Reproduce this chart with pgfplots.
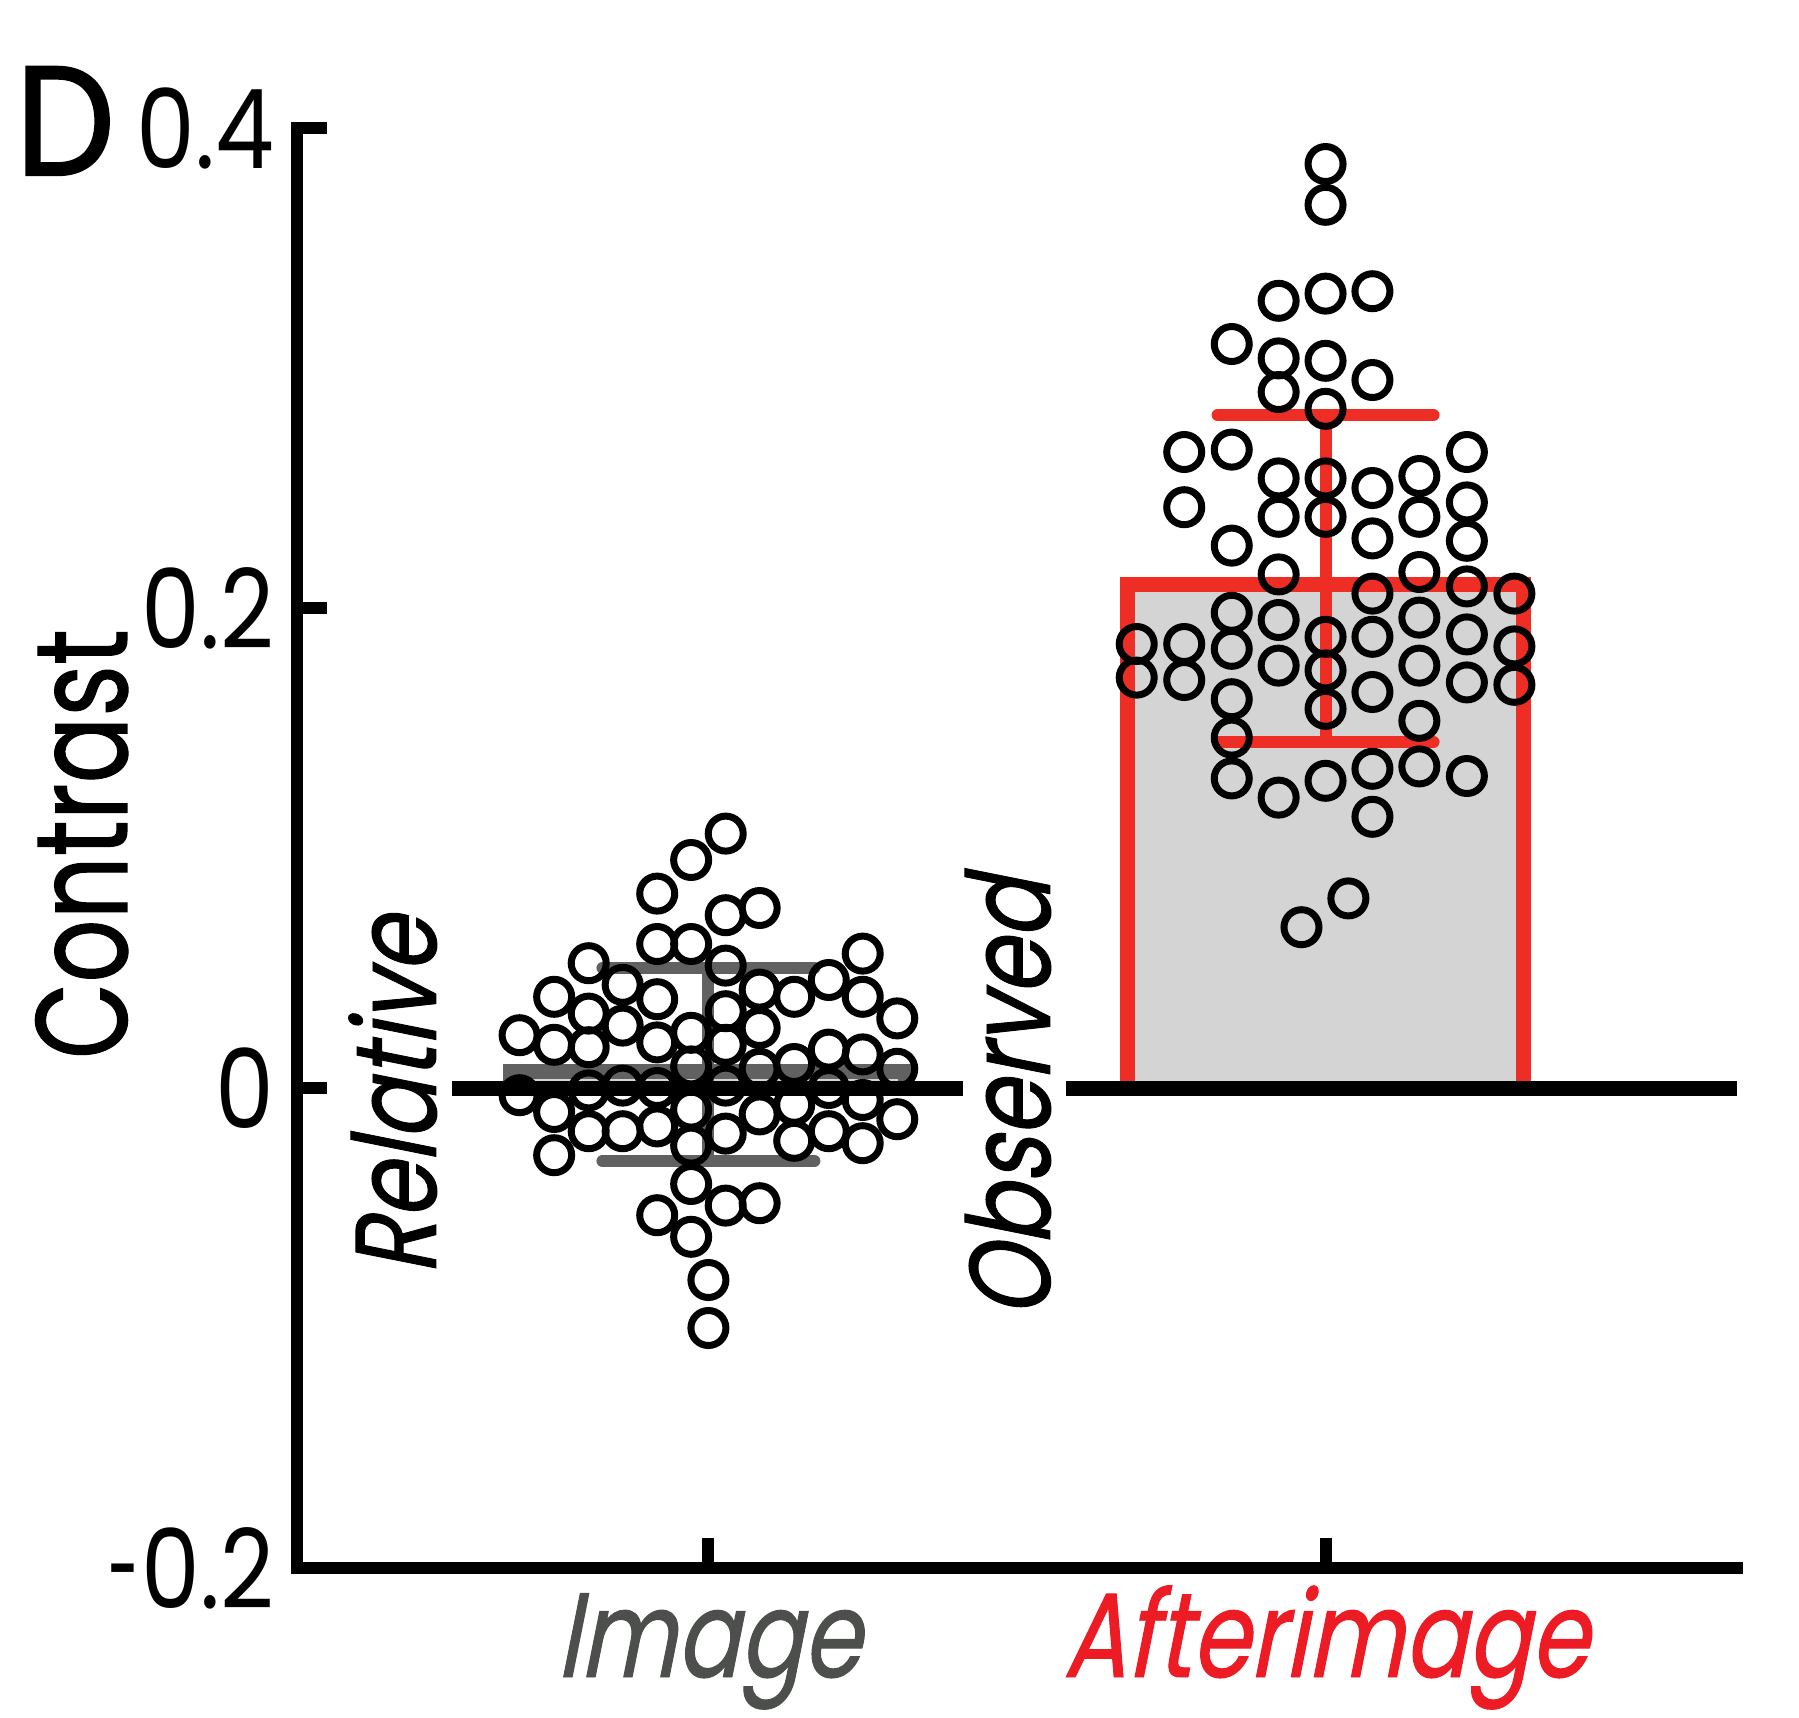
\documentclass[border=0pt]{standalone}
\usepackage{fontspec}
\setmainfont{Poppins}[FakeStretch=0.85]
\newfontfamily\labfont{Poppins}[FakeStretch=0.76, FakeBold=0.8]
\newfontfamily\oblfont{Poppins}[FakeStretch=0.79, FakeSlant=0.2, FakeBold=0.8]
\newfontfamily\xlabfont{Poppins}[FakeStretch=0.78, FakeSlant=0.2, FakeBold=0.8]
\newfontfamily\panelfont{Poppins}[FakeStretch=0.9, FakeBold=1.6]
\usepackage{graphicx}
\usepackage{pgfplots}
\usepackage{pgfplotstable}
\pgfplotsset{compat=1.18}

\definecolor{barred}{HTML}{EE2E24}
\definecolor{barfill}{HTML}{D4D4D4}
\definecolor{errgray}{HTML}{616161}
\definecolor{imggray}{HTML}{4D4F4D}
\definecolor{aftred}{HTML}{ED1C24}

% short minus sign for the tick labels
\newcommand{\shortminus}{\scalebox{0.6}[1]{-}\kern0.5pt}

% individual observations, Image condition
\pgfplotstableread{
x y
1.028 0.106
0.972 0.095
0.917 0.081
1.028 0.072
1.083 0.075
0.917 0.060
0.972 0.060
1.028 0.051
0.806 0.052
0.861 0.043
0.917 0.037
0.750 0.038
0.806 0.031
0.861 0.026
0.972 0.023
1.028 0.032
1.083 0.041
1.139 0.038
1.195 0.045
1.250 0.056
1.250 0.038
1.306 0.029
1.083 0.025
0.694 0.022
0.750 0.018
0.806 0.017
0.917 0.019
1.028 0.018
1.195 0.016
1.250 0.014
1.306 0.008
0.972 0.009
1.083 0.008
1.139 0.010
0.861 0.001
0.917 0.000
1.028 0.001
0.694 -0.003
0.806 -0.001
0.750 -0.010
1.139 -0.007
1.195 0.000
1.250 -0.005
0.972 -0.009
1.083 -0.011
1.306 -0.013
0.806 -0.018
0.861 -0.018
0.917 -0.016
1.028 -0.019
1.139 -0.022
1.195 -0.018
1.250 -0.023
0.972 -0.024
0.750 -0.028
0.972 -0.040
0.917 -0.053
1.028 -0.049
1.083 -0.048
0.972 -0.062
1.000 -0.080
1.000 -0.100
}\imagedata

% individual observations, Afterimage condition
\pgfplotstableread{
x y
2.000 0.385
2.000 0.368
1.924 0.328
2.000 0.331
2.076 0.332
1.848 0.310
1.924 0.304
2.000 0.303
2.076 0.295
1.924 0.290
2.000 0.283
1.771 0.265
1.848 0.266
1.924 0.254
2.000 0.254
2.076 0.250
2.152 0.255
2.229 0.265
1.771 0.242
1.924 0.238
2.000 0.238
2.152 0.238
2.229 0.244
1.848 0.226
2.076 0.229
2.229 0.228
1.924 0.214
2.152 0.215
2.229 0.209
2.306 0.206
2.076 0.206
1.848 0.198
1.924 0.195
2.000 0.188
2.076 0.188
2.152 0.196
2.229 0.189
2.306 0.184
1.694 0.185
1.771 0.185
1.848 0.183
1.694 0.171
1.771 0.170
1.924 0.176
2.000 0.174
2.152 0.176
2.229 0.169
2.306 0.168
2.076 0.165
1.848 0.162
2.000 0.158
2.152 0.153
1.848 0.146
1.848 0.129
1.924 0.121
2.000 0.128
2.076 0.133
2.152 0.134
2.229 0.130
2.076 0.113
2.037 0.079
1.961 0.067
}\afterdata

\begin{document}
\begin{tikzpicture}
\useasboundingbox (-59.4pt,-30pt) rectangle (300.4pt,313.6pt);
\begin{axis}[
  scale only axis, width=288pt, height=288pt,
  at={(0,0)}, anchor=south west,
  xmin=0.3333, xmax=2.6667, ymin=-0.2, ymax=0.4,
  axis x line*=bottom, axis y line*=left,
  axis line style={line width=2.4pt, line cap=rect, -},
  xtick={1,2},
  xticklabels={\textcolor{imggray}{Image}, \textcolor{aftred}{Afterimage}},
  ytick={-0.2,0,0.2,0.4},
  yticklabels={\shortminus 0.2,0,0.2,0.4},
  tick align=inside, major tick length=6pt,
  tick style={line width=2.4pt, black},
  yticklabel style={font=\fontsize{22}{22}\selectfont, anchor=east, inner sep=0pt, xshift=-4.4pt},
  xticklabel style={font=\xlabfont\fontsize{24}{24}\selectfont, anchor=base, inner sep=0pt, yshift=-21.8pt},
  clip=false,
]
% group means
\addplot[ybar, bar width=0.64, draw=errgray, line width=3.0pt, fill=barfill] coordinates {(1,0.007)};
\addplot[ybar, bar width=0.642, draw=barred, line width=3.0pt, fill=barfill] coordinates {(2,0.21)};
% observations
\addplot[only marks, mark=o, mark size=3.5pt, mark options={line width=1.4pt, black}] table[x=x, y=y] {\imagedata};
\addplot[only marks, mark=o, mark size=3.5pt, mark options={line width=1.4pt, black}] table[x=x, y=y] {\afterdata};
% spread
\addplot[errgray, mark=none, error bars/.cd, y dir=both, y explicit,
  error bar style={line width=2.4pt, line cap=round, errgray},
  error mark options={rotate=90, mark size=21.2pt, line width=2.4pt, line cap=round, errgray}]
  coordinates {(1,0.0098) +- (0,0.0402)};
\addplot[barred, mark=none, error bars/.cd, y dir=both, y explicit,
  error bar style={line width=2.4pt, line cap=round, barred},
  error mark options={rotate=90, mark size=21.6pt, line width=2.4pt, line cap=round, barred}]
  coordinates {(2,0.2123) +- (0,0.0681)};
% zero reference, broken around the in-plot labels
\addplot[black, line width=3.0pt] coordinates {(0.585,0) (1.413,0)};
\addplot[black, line width=3.0pt] coordinates {(1.580,0) (2.667,0)};
\end{axis}
\node[anchor=base west, inner sep=0pt, font=\panelfont\fontsize{31}{31}\selectfont] at (-56.4pt,278.6pt) {D};
\node[rotate=90, anchor=base, inner sep=0pt, font=\labfont\fontsize{26}{26}\selectfont] at (-34.0pt,144.8pt) {Contrast};
\node[rotate=90, anchor=base, inner sep=0pt, font=\oblfont\fontsize{23}{23}\selectfont] at (27.8pt,94.4pt) {Relative};
\node[rotate=90, anchor=base, inner sep=0pt, font=\oblfont\fontsize{23}{23}\selectfont] at (150.6pt,94.0pt) {Observed};
\end{tikzpicture}
\end{document}
